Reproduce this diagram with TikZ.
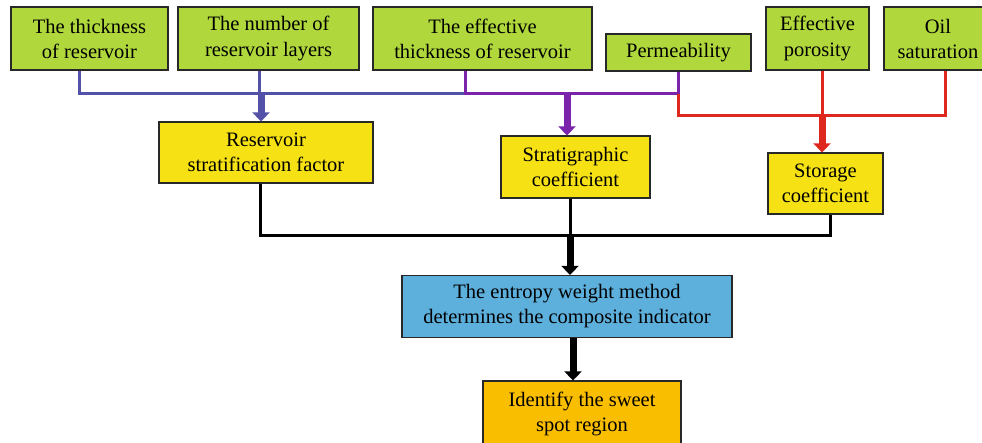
\documentclass[tikz,border=0pt]{standalone}
\usepackage{fontspec}
\setmainfont{Liberation Serif}
\usetikzlibrary{arrows.meta}
\definecolor{gfill}{RGB}{176,216,60}
\definecolor{yfill}{RGB}{245,225,20}
\definecolor{bfill}{RGB}{93,175,220}
\definecolor{ofill}{RGB}{250,190,0}
\definecolor{cblue}{RGB}{84,82,168}
\definecolor{cpurple}{RGB}{122,36,172}
\definecolor{cred}{RGB}{222,40,30}
\definecolor{edge}{RGB}{40,40,40}
\begin{document}
\begin{tikzpicture}[x=1pt,y=-1pt,
  box/.style={draw=edge, line width=1.2pt, inner sep=0pt, align=center,
    font=\fontsize{20.5}{25}\selectfont},
  gbox/.style={box, fill=gfill},
  ybox/.style={box, fill=yfill},
  bbox/.style={box, fill=bfill},
  obox/.style={box, fill=ofill},
  conn/.style={line width=3pt},
  fat/.style={line width=7pt, -{Triangle[width=17pt,length=9pt]}},
]
\useasboundingbox (0,0) rectangle (982,443);
% top row
\node[gbox, minimum width=157pt, minimum height=63pt] (b1) at (89.5,38.5) {The thickness\\of reservoir};
\node[gbox, minimum width=181pt, minimum height=63pt] (b2) at (268.5,38.5) {The number of\\reservoir layers};
\node[gbox, minimum width=219pt, minimum height=63pt] (b3) at (482.5,38.5) {The effective\\thickness of reservoir};
\node[gbox, minimum width=145pt, minimum height=37pt] (b4) at (678.5,52.5) {Permeability};
\node[gbox, minimum width=103pt, minimum height=63pt] (b5) at (817.5,38.5) {Effective\\porosity};
\node[gbox, minimum width=108pt, minimum height=63pt] (b6) at (938,38.5) {Oil\\saturation};
% middle row
\node[ybox, minimum width=214pt, minimum height=61pt] (r1) at (266,152.5) {Reservoir\\stratification factor};
\node[ybox, minimum width=149pt, minimum height=62pt] (r2) at (575.5,167) {Stratigraphic\\coefficient};
\node[ybox, minimum width=115pt, minimum height=61pt] (r3) at (825.5,183.5) {Storage\\coefficient};
% lower
\node[bbox, minimum width=330pt, minimum height=62pt] (m) at (567,306.5) {The entropy weight method\\determines the composite indicator};
\node[obox, minimum width=198pt, minimum height=66pt] (o) at (582,414) {Identify the sweet\\spot region};
% junction coordinates
\coordinate (jb1) at (79,94);
\coordinate (jb2) at (259,94);
\coordinate (jp) at (465,94);
\coordinate (jpm) at (678,94);
\coordinate (jrm) at (678,116);
\coordinate (jr6) at (945,116);
\coordinate (jr5) at (822,116);
\coordinate (ab) at (261,94);
\coordinate (ap) at (567,94);
\coordinate (k1) at (260,236);
\coordinate (k2) at (570,236);
\coordinate (k3) at (830,236);
\coordinate (am) at (573,0);
% blue
\draw[conn, cblue] (jb1 |- b1.south) -- (jb1) -- (jp);
\draw[conn, cblue] (jb2 |- b2.south) -- (jb2);
\draw[fat, cblue] (ab) -- (ab |- r1.north);
% purple
\draw[conn, cpurple] (jp |- b3.south) -- (jp) -- (jpm) -- (jpm |- b4.south);
\draw[fat, cpurple] (ap) -- (ap |- r2.north);
% red
\draw[conn, cred] (jpm) -- (jrm) -- (jr6) -- (jr6 |- b6.south);
\draw[conn, cred] (jr5 |- b5.south) -- (jr5);
\draw[fat, cred] (jr5) -- (jr5 |- r3.north);
% black
\draw[conn, black] (k1 |- r1.south) -- (k1) -- (k3) -- (k3 |- r3.south);
\draw[conn, black] (k2 |- r2.south) -- (k2);
\draw[fat, black] (k2) -- (k2 |- m.north);
\draw[fat, black] (am |- m.south) -- (am |- o.north);
\end{tikzpicture}
\end{document}
